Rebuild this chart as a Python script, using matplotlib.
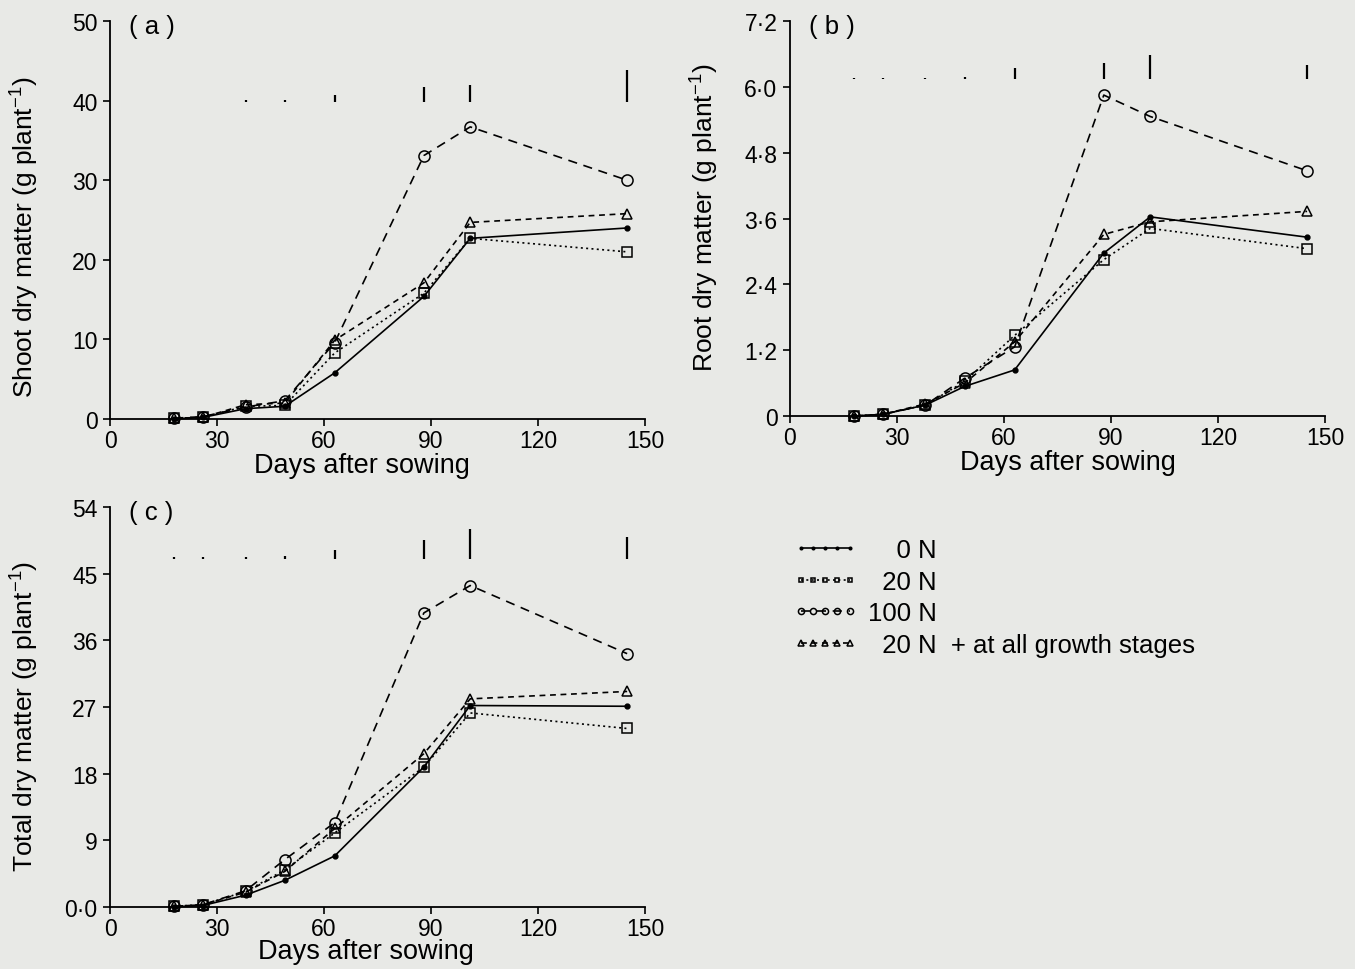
import matplotlib
matplotlib.use("Agg")
import matplotlib.pyplot as plt

plt.rcParams['font.family'] = ['Liberation Sans', 'DejaVu Sans']
plt.rcParams['mathtext.fontset'] = 'custom'
plt.rcParams['mathtext.rm'] = 'Liberation Sans'
plt.rcParams['mathtext.it'] = 'Liberation Sans:italic'
plt.rcParams['mathtext.bf'] = 'Liberation Sans:bold'

# ---------------- data ----------------
days = [18, 26, 38, 49, 63, 88, 101, 145]

shoot_0N = [0.0, 0.2, 1.3, 1.6, 5.8, 15.4, 22.7, 24.0]
shoot_20N = [0.1, 0.2, 1.6, 1.7, 8.3, 15.8, 22.7, 21.0]
shoot_100N = [0.1, 0.3, 1.5, 2.3, 9.6, 33.1, 36.7, 30.0]
shoot_20Nplus = [0.1, 0.2, 1.8, 2.0, 9.9, 17.1, 24.7, 25.8]

root_0N = [0.0, 0.03, 0.20, 0.54, 0.84, 2.97, 3.63, 3.26]
root_20N = [0.0, 0.03, 0.20, 0.63, 1.47, 2.85, 3.42, 3.05]
root_100N = [0.0, 0.03, 0.20, 0.69, 1.26, 5.85, 5.46, 4.47]
root_20Nplus = [0.0, 0.03, 0.22, 0.60, 1.35, 3.31, 3.54, 3.73]

total_0N = [0.0, 0.2, 1.6, 3.6, 6.9, 18.9, 27.2, 27.1]
total_20N = [0.1, 0.3, 2.1, 5.0, 10.0, 18.9, 26.2, 24.1]
total_100N = [0.1, 0.3, 2.2, 6.4, 11.4, 39.7, 43.4, 34.2]
total_20Nplus = [0.1, 0.3, 2.0, 4.8, 10.6, 20.7, 28.1, 29.1]

# LSD bars
lsd_days_a = [38, 49, 63, 88, 101, 145]
lsd_a = [0.25, 0.25, 0.9, 1.9, 2.1, 4.0]
lsd_base_a = 39.8
lsd_days_b = [18, 26, 38, 49, 63, 88, 101, 145]
lsd_b = [0.02, 0.02, 0.02, 0.04, 0.21, 0.29, 0.44, 0.26]
lsd_base_b = 6.14
lsd_days_c = [18, 26, 38, 49, 63, 88, 101, 145]
lsd_c = [0.2, 0.3, 0.3, 0.35, 1.2, 2.5, 4.0, 2.9]
lsd_base_c = 47.0

series_labels = ["    0 N", "  20 N", "100 N", "  20 N  + at all growth stages"]
x_ticks = [0, 30, 60, 90, 120, 150]
a_yticks = [0, 10, 20, 30, 40, 50]
a_ylabels = ["0", "10", "20", "30", "40", "50"]
b_yticks = [0, 1.2, 2.4, 3.6, 4.8, 6.0, 7.2]
b_ylabels = ["0", "1·2", "2·4", "3·6", "4·8", "6·0", "7·2"]
c_yticks = [0, 9, 18, 27, 36, 45, 54]
c_ylabels = ["0·0", "9", "18", "27", "36", "45", "54"]

BG = '#e8e9e6'
styles = [
    dict(ls='-', marker='o', ms=3.5, mfc='black', mec='black'),
    dict(ls=(0, (1.2, 2.0)), marker='s', ms=6.5, mfc='none', mec='black', mew=1.1),
    dict(ls=(0, (5.5, 4.0)), marker='o', ms=8, mfc='none', mec='black', mew=1.1),
    dict(ls=(0, (3.5, 2.8)), marker='^', ms=7, mfc='none', mec='black', mew=1.1),
]

fig = plt.figure(figsize=(13.55, 9.7), dpi=100, facecolor=BG)

def make_axes(rect, series, yticks, ylabels, ylabel, panel, lsd_days, lsd, base,
              xlab_x, xlab_y, ylab_y):
    ax = fig.add_axes(rect)
    ax.set_facecolor('none')
    handles = []
    for vals, st in zip(series, styles):
        h, = ax.plot(days, vals, color='black', lw=1.2, clip_on=False, **st)
        handles.append(h)
    ax.vlines(lsd_days, base, [base + v for v in lsd], color='black', lw=1.6)
    ax.set_xlim(0, 150)
    ax.set_ylim(yticks[0], yticks[-1])
    ax.set_xticks(x_ticks)
    ax.set_yticks(yticks)
    ax.set_yticklabels(ylabels)
    for s in ['top', 'right']:
        ax.spines[s].set_visible(False)
    for s in ['left', 'bottom']:
        ax.spines[s].set_linewidth(1.3)
    ax.tick_params(direction='out', length=5, width=1.2, labelsize=16.5)
    ax.tick_params(axis='x', pad=2)
    ax.tick_params(axis='y', pad=4)
    ax.set_xlabel("Days after sowing", fontsize=19.5)
    ax.xaxis.set_label_coords(xlab_x, xlab_y, transform=ax.transAxes)
    ax.xaxis.label.set_va('center')
    ax.set_ylabel(ylabel, fontsize=19)
    ax.yaxis.label.set_va('center')
    ax.yaxis.set_label_coords(-0.159, ylab_y, transform=ax.transAxes)
    ax.text(0.035, 0.987, panel, transform=ax.transAxes, fontsize=18.5,
            ha='left', va='center')
    return ax, handles

ax_a, handles = make_axes([0.0812, 0.567, 0.3948, 0.4103],
                          [shoot_0N, shoot_20N, shoot_100N, shoot_20Nplus],
                          a_yticks, a_ylabels, "Shoot dry matter (g plant$^{-1}$)", "( a )",
                          lsd_days_a, lsd_a, lsd_base_a, 0.47, -0.116, 0.46)
ax_b, _ = make_axes([0.583, 0.5701, 0.3948, 0.4072],
                    [root_0N, root_20N, root_100N, root_20Nplus],
                    b_yticks, b_ylabels, "Root dry matter (g plant$^{-1}$)", "( b )",
                    lsd_days_b, lsd_b, lsd_base_b, 0.52, -0.116, 0.505)
ax_c, _ = make_axes([0.0812, 0.0639, 0.3948, 0.4124],
                    [total_0N, total_20N, total_100N, total_20Nplus],
                    c_yticks, c_ylabels, "Total dry matter (g plant$^{-1}$)", "( c )",
                    lsd_days_c, lsd_c, lsd_base_c, 0.478, -0.11, 0.48)

fig.legend(handles, series_labels, loc='upper left', bbox_to_anchor=(0.572, 0.463),
           bbox_transform=fig.transFigure, frameon=False, numpoints=5,
           markerscale=0.55, handlelength=2.5, handletextpad=0.4,
           labelspacing=0.30, fontsize=18.5, borderpad=0.2)

fig.savefig("out.png", dpi=100, facecolor=BG)
